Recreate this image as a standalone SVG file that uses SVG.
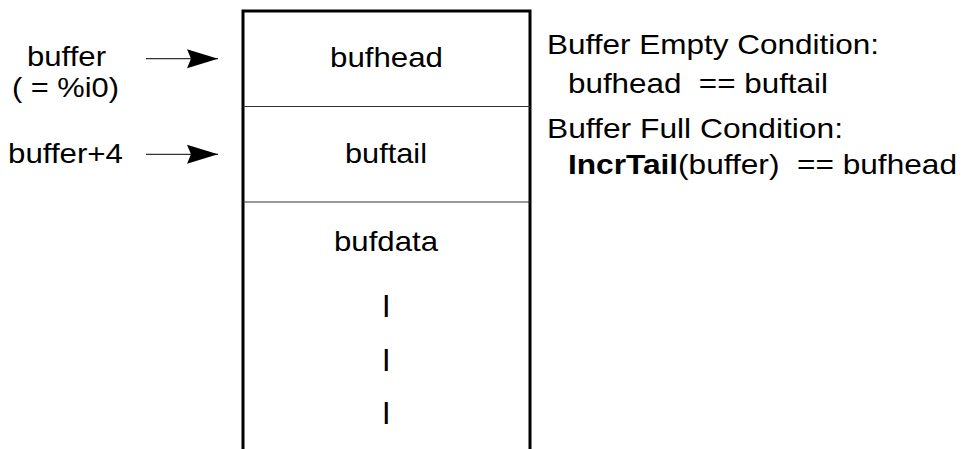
<svg xmlns="http://www.w3.org/2000/svg" width="964" height="449" viewBox="0 0 964 449">
  <style>
    text { font-family: "Liberation Sans", Arial, Helvetica, sans-serif; font-size: 28px; fill: #000; }
    .bar { font-size: 24.5px; }
    .box { fill: none; stroke: #000; stroke-width: 3; }
    .div { stroke: #333; stroke-width: 1.2; }
    .conn { stroke: #333; stroke-width: 1.2; fill: none; }
    .b { font-weight: bold; }
  </style>
  <defs>
    <marker id="ah" markerUnits="userSpaceOnUse" markerWidth="32" markerHeight="20" refX="31" refY="10" orient="auto" viewBox="0 0 32 20">
      <path d="M0,0.5 L31,10 L0,19.5 L4,10 Z" fill="#000"/>
    </marker>
  </defs>

  <rect x="0" y="0" width="964" height="449" fill="#fff"/>

  <g id="label-buffer">
    <text x="27" y="66" textLength="79" lengthAdjust="spacingAndGlyphs">buffer</text>
    <text x="12" y="97" textLength="107" lengthAdjust="spacingAndGlyphs">( = %i0)</text>
  </g>
  <g id="label-buffer4">
    <text x="8" y="163" textLength="115" lengthAdjust="spacingAndGlyphs">buffer+4</text>
  </g>

  <g id="buffer-struct">
    <path class="box" d="M243,452 V11 H530 V452"/>
    <line class="div" x1="243" y1="106.5" x2="530" y2="106.5"/>
    <line class="div" x1="243" y1="202" x2="530" y2="202"/>
  </g>
  <g id="cell-bufhead">
    <text x="330" y="67" textLength="113" lengthAdjust="spacingAndGlyphs">bufhead</text>
  </g>
  <g id="cell-buftail">
    <text x="345" y="163" textLength="82" lengthAdjust="spacingAndGlyphs">buftail</text>
  </g>
  <g id="cell-bufdata">
    <text x="334" y="251" textLength="104" lengthAdjust="spacingAndGlyphs">bufdata</text>
    <text class="bar" x="381.5" y="312" textLength="9.5" lengthAdjust="spacingAndGlyphs">|</text>
    <text class="bar" x="381.5" y="366" textLength="9.5" lengthAdjust="spacingAndGlyphs">|</text>
    <text class="bar" x="381.5" y="419" textLength="9.5" lengthAdjust="spacingAndGlyphs">|</text>
  </g>

  <g id="conditions">
    <text x="547" y="54" textLength="332" lengthAdjust="spacingAndGlyphs">Buffer Empty Condition:</text>
    <text x="568" y="93" textLength="260" lengthAdjust="spacingAndGlyphs" xml:space="preserve">bufhead  == buftail</text>
    <text x="547" y="138" textLength="296" lengthAdjust="spacingAndGlyphs">Buffer Full Condition:</text>
    <text x="568" y="174" textLength="389" lengthAdjust="spacingAndGlyphs" xml:space="preserve"><tspan class="b">IncrTail</tspan>(buffer)  == bufhead</text>
  </g>

  <g id="connectors">
    <line class="conn" x1="146" y1="58.7" x2="218" y2="58.7" marker-end="url(#ah)"/>
    <line class="conn" x1="146" y1="154.3" x2="218" y2="154.3" marker-end="url(#ah)"/>
  </g>
</svg>
